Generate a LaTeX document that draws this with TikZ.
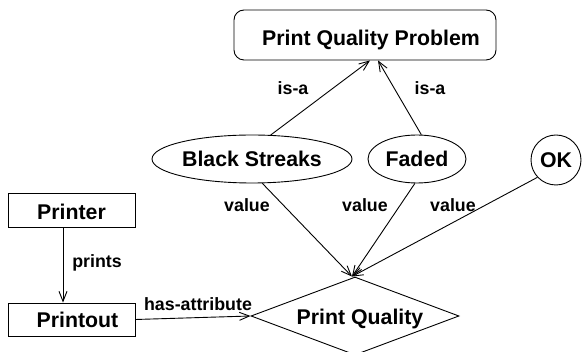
\documentclass[tikz,border=0pt]{standalone}
\usepackage{fontspec}
\setmainfont{Liberation Sans}
\usetikzlibrary{shapes.geometric,arrows.meta}
\begin{document}
\begin{tikzpicture}[x=1pt,y=-1pt,
  every node/.style={inner sep=0pt},
  nodetext/.style={font=\fontsize{21.3}{23}\selectfont\bfseries},
  edgetext/.style={font=\fontsize{17.8}{19}\selectfont\bfseries},
  frame/.style={draw,line width=0.9pt},
  conn/.style={line width=0.9pt,-{Straight Barb[length=10pt,width=8pt,line width=0.9pt]}}
]
\useasboundingbox (0,0) rectangle (582,352);

% concept nodes
\node[frame,rectangle,rounded corners=10pt,minimum width=262pt,minimum height=50pt,
  label={[nodetext,xshift=6pt,yshift=-4.5pt]center:Print Quality Problem}] (pqp) at (365,35) {};
\node[frame,ellipse,minimum width=200pt,minimum height=48pt,
  label={[nodetext]center:Black Streaks}] (bs) at (252,159) {};
\node[frame,ellipse,minimum width=98pt,minimum height=48pt,
  label={[nodetext]center:Faded}] (fd) at (417,159) {};
\node[frame,circle,minimum size=50pt,
  label={[nodetext]center:OK}] (ok) at (556,160) {};
\node[frame,rectangle,minimum width=127pt,minimum height=34pt,
  label={[nodetext,yshift=-2pt]center:Printer}] (pr) at (71.5,210) {};
\node[frame,rectangle,minimum width=127pt,minimum height=33pt,
  label={[nodetext,xshift=6pt]center:Printout}] (po) at (71.5,319.5) {};
\node[frame,diamond,minimum width=208pt,minimum height=78pt,
  label={[nodetext,xshift=5pt,yshift=-3pt]center:Print Quality}] (pq) at (355,316) {};

% is-a links
\draw[conn] (bs.52) -- ([xshift=5pt]pqp.south);
\draw[conn] (fd.80) -- ([xshift=13pt]pqp.south);
\node[edgetext] (isa1) at (293,88) {is-a};
\node[edgetext] (isa2) at (430,88) {is-a};

% value links
\draw[conn] (bs.-67) -- ([xshift=-3pt]pq.north);
\draw[conn] (fd.-95) -- ([xshift=-3pt]pq.north);
\draw[conn] (ok.223) -- ([xshift=-3pt]pq.north);
\node[edgetext] (v1) at (247,205) {value};
\node[edgetext] (v2) at (365,205) {value};
\node[edgetext] (v3) at (453,205) {value};

% printer links
\draw[conn] ([xshift=-8.5pt]pr.south) -- ([xshift=-8.5pt]po.north);
\node[edgetext] (prints) at (97,263) {prints};
\draw[conn] (po.east) -- (pq.west);
\node[edgetext] (hasattr) at (198,304) {has-attribute};
\end{tikzpicture}
\end{document}
